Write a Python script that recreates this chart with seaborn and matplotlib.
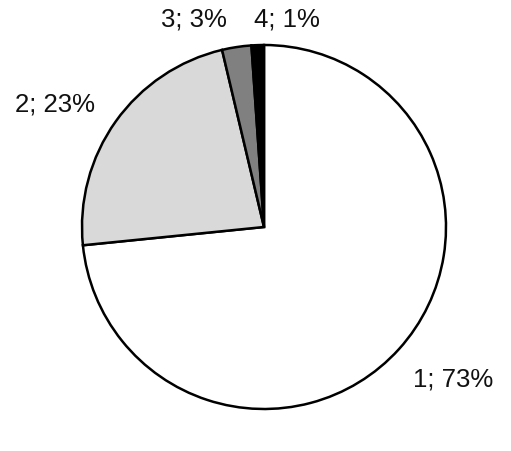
import matplotlib
matplotlib.use("Agg")
import matplotlib.pyplot as plt
import seaborn as sns

categories = ["1", "2", "3", "4"]
shares = [73.4, 22.9, 2.6, 1.1]
colors = ["#ffffff", "#d9d9d9", "#808080", "#000000"]

sns.set_theme(style="white")
plt.rcParams['font.family'] = ['Liberation Sans', 'DejaVu Sans']

fig = plt.figure(figsize=(5.11, 4.52), dpi=100)
ax = fig.add_axes([0, 0, 1, 1])

total = sum(shares)
labels = [f"{c}; {round(v / total * 100)}%" for c, v in zip(categories, shares)]

wedges, texts = ax.pie(shares, labels=labels, colors=colors, startangle=90,
                       counterclock=False, labeldistance=1.33,
                       wedgeprops=dict(edgecolor="black", linewidth=1.8),
                       textprops=dict(fontsize=18.5, color="#111111"))

# labels were placed by hand in the original chart
label_pos = [(1.04, -0.835), (-1.148, 0.676), (-0.385, 1.143), (0.126, 1.143)]
for t, p in zip(texts, label_pos):
    t.set_position(p)
    t.set_ha("center")
    t.set_va("center")

ax.set_xlim(-264 / 182, (511 - 264) / 182)
ax.set_ylim(-(452 - 228) / 182, 228 / 182)
ax.set_aspect("auto")
ax.axis("off")

fig.savefig("out.png", dpi=100, facecolor="white")
